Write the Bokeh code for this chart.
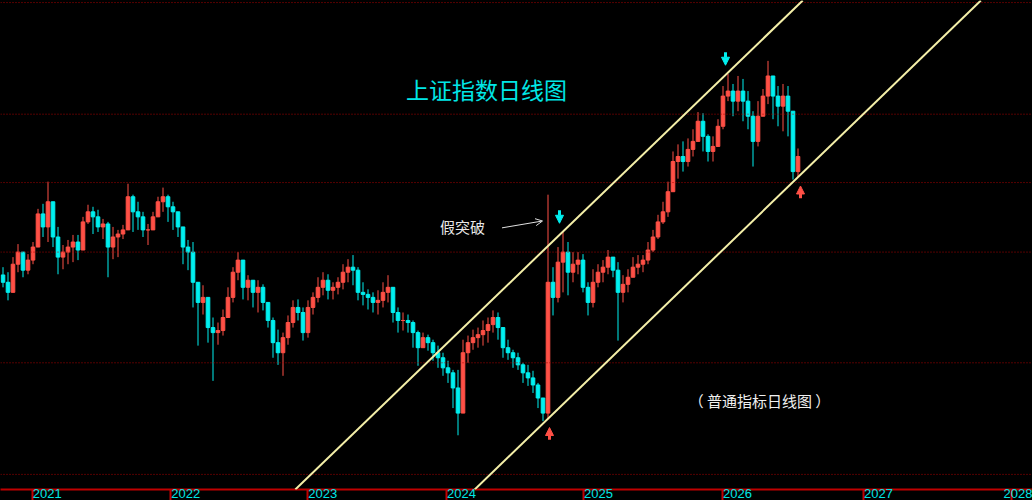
from bokeh.plotting import figure
from bokeh.models import (Range1d, Span, Slope, Label, Arrow, NormalHead, OpenHead,
                          FixedTicker, CustomJSTickFormatter, ColumnDataSource,
                          GlobalInlineStyleSheet)
from bokeh.embed import file_html
from bokeh.resources import INLINE

# ---------------- data (index points, one bar per sampled period) ----------------
first_open = 3320
closes = [3288, 3244, 3367, 3420, 3341, 3385, 3442, 3587, 3530, 3640,
          3486, 3398, 3420, 3442, 3464, 3429, 3552, 3596, 3574, 3530,
          3543, 3442, 3486, 3499, 3517, 3662, 3596, 3574, 3517, 3517,
          3574, 3640, 3662, 3618, 3596, 3530, 3442, 3420, 3288, 3200,
          3222, 3090, 3068, 3077, 3134, 3222, 3332, 3385, 3266, 3297,
          3244, 3266, 3200, 3121, 3024, 2980, 3046, 3112, 3178, 3156,
          3068, 3178, 3222, 3266, 3297, 3253, 3266, 3288, 3332, 3354,
          3341, 3244, 3235, 3222, 3200, 3209, 3244, 3266, 3156, 3121,
          3121, 3112, 3068, 3002, 3046, 3024, 2980, 2958, 2914, 2892,
          2826, 2716, 2980, 3024, 3046, 3059, 3077, 3103, 3134, 3090,
          3002, 2980, 2958, 2927, 2892, 2870, 2839, 2782, 2716, 3288,
          3222, 3376, 3420, 3332, 3367, 3385, 3266, 3200, 3288, 3332,
          3354, 3398, 3341, 3244, 3279, 3310, 3354, 3367, 3385, 3429,
          3486, 3552, 3596, 3684, 3816, 3838, 3816, 3869, 3904, 3992,
          3926, 3860, 3882, 3970, 4102, 4124, 4080, 4124, 4080, 4014,
          3904, 4014, 4102, 4190, 4102, 4058, 4102, 4036, 3772, 3838]
highs = [3354, 3332, 3398, 3455, 3420, 3411, 3464, 3609, 3631, 3728,
         3618, 3530, 3451, 3473, 3495, 3495, 3574, 3627, 3618, 3605,
         3565, 3552, 3530, 3517, 3539, 3719, 3671, 3640, 3596, 3543,
         3596, 3662, 3702, 3671, 3640, 3596, 3508, 3473, 3464, 3275,
         3275, 3200, 3134, 3112, 3169, 3266, 3354, 3420, 3332, 3319,
         3288, 3297, 3279, 3200, 3134, 3081, 3068, 3143, 3209, 3213,
         3178, 3209, 3244, 3310, 3332, 3323, 3288, 3310, 3367, 3389,
         3407, 3354, 3288, 3257, 3244, 3253, 3288, 3319, 3222, 3178,
         3156, 3147, 3121, 3077, 3068, 3059, 3037, 3011, 2980, 2945,
         2905, 2905, 3037, 3055, 3081, 3090, 3121, 3134, 3165, 3156,
         3068, 3037, 2993, 2980, 2936, 2927, 2901, 2848, 2782, 3671,
         3354, 3442, 3508, 3464, 3420, 3420, 3411, 3288, 3345, 3367,
         3385, 3429, 3398, 3376, 3319, 3345, 3398, 3407, 3407, 3464,
         3517, 3583, 3640, 3728, 3860, 3891, 3904, 3917, 3957, 4032,
         4027, 3935, 3926, 4001, 4146, 4199, 4155, 4190, 4177, 4124,
         4036, 4080, 4133, 4256, 4177, 4146, 4155, 4146, 3979, 3873]
lows = [3266, 3209, 3266, 3332, 3310, 3323, 3367, 3464, 3486, 3464,
        3442, 3323, 3345, 3367, 3376, 3385, 3442, 3543, 3499, 3508,
        3477, 3310, 3389, 3398, 3477, 3574, 3508, 3517, 3486, 3451,
        3517, 3574, 3596, 3552, 3517, 3486, 3367, 3341, 3178, 3011,
        3147, 3024, 2857, 3015, 3055, 3134, 3200, 3297, 3213, 3209,
        3178, 3156, 3165, 3090, 2958, 2927, 2879, 3015, 3090, 3121,
        3033, 3046, 3147, 3200, 3231, 3213, 3213, 3235, 3257, 3288,
        3275, 3209, 3187, 3169, 3156, 3147, 3178, 3200, 3112, 3068,
        3077, 3068, 3002, 2923, 3002, 2989, 2945, 2914, 2879, 2848,
        2738, 2619, 2782, 2936, 2993, 3002, 3011, 3024, 3068, 3037,
        2958, 2949, 2914, 2905, 2848, 2835, 2804, 2738, 2681, 2694,
        3143, 3200, 3244, 3231, 3288, 3323, 3244, 3143, 3178, 3266,
        3288, 3323, 3310, 3033, 3200, 3244, 3310, 3323, 3332, 3367,
        3420, 3477, 3543, 3574, 3728, 3741, 3772, 3794, 3838, 3904,
        3860, 3816, 3816, 3895, 3957, 4080, 4014, 4036, 3992, 3957,
        3794, 3882, 4036, 4067, 4001, 3970, 3948, 3926, 3737, 3750]

year_labels = ["2021", "2022", "2023", "2024", "2025", "2026", "2027", "2028"]
year_ticks = [5.84, 33.56, 60.96, 88.7, 116.1, 143.9, 172.1, 201.7]
grid_levels = [4511, 4023, 3724, 3420, 2936, 2448]

upper_channel = [(112.1, 3512), (144.9, 4203)]
lower_channel = [(108.5, 2681), (158.5, 3737)]

fake_break_bar = 109
top_signals = [111.3, 144.5]
bottom_signals = [109.3, 159.5]

title_text = "上证指数日线图"
note_text = "（ 普通指标日线图 ）"
fake_text = "假突破"

# ---------------- styling ----------------
UP = "#FF5046"
DOWN = "#00F0F0"
GRID = "#A80000"
AXIS = "#C00000"
CHANNEL = "#F4EFA8"
CYAN_TXT = "#00E6E6"

opens = [first_open] + closes[:-1]
idx = list(range(len(closes)))
tops = [max(o, c) for o, c in zip(opens, closes)]
bots = [min(o, c) for o, c in zip(opens, closes)]
hi = [max(h, o, c) for h, o, c in zip(highs, opens, closes)]
lo = [min(l, o, c) for l, o, c in zip(lows, opens, closes)]
cols = [UP if c >= o else DOWN for o, c in zip(opens, closes)]
src = ColumnDataSource(dict(x=idx, top=tops, bottom=bots, hi=hi, lo=lo, color=cols))

p = figure(width=1032, height=500, x_range=Range1d(-0.5, 205.9),
           y_range=Range1d(2382, 4520), output_backend="svg",
           toolbar_location=None, y_axis_location=None,
           background_fill_color="black", border_fill_color="black",
           outline_line_color=None, min_border=0,
           min_border_left=0, min_border_right=0, min_border_top=0, min_border_bottom=0)
p.stylesheets = [GlobalInlineStyleSheet(css="html,body{margin:0;padding:0;background:#000;overflow:hidden;}")]
p.grid.visible = False

for lv in grid_levels:
    p.add_layout(Span(location=lv, dimension="width", line_color=GRID,
                      line_dash="1 2", line_width=1))

# channel lines
for (x1, y1), (x2, y2) in (upper_channel, lower_channel):
    g = (y2 - y1) / (x2 - x1)
    p.add_layout(Slope(gradient=g, y_intercept=y1 - g * x1,
                       line_color=CHANNEL, line_width=2))

# candles
p.segment(x0="x", y0="hi", x1="x", y1="lo", color="color", line_width=1, source=src)
p.vbar(x="x", width=0.72, top="top", bottom="bottom", fill_color="color",
       line_color="color", line_width=1, source=src)

# axis
ax = p.xaxis[0]
ax.ticker = FixedTicker(ticks=[t + 3.0 for t in year_ticks], minor_ticks=year_ticks)
ax.formatter = CustomJSTickFormatter(args=dict(labels=year_labels), code="return labels[index];")
ax.axis_line_color = AXIS
ax.axis_line_width = 2
ax.major_tick_out = 0
ax.major_tick_in = 0
ax.minor_tick_out = 14
ax.minor_tick_in = 0
ax.minor_tick_line_color = AXIS
ax.minor_tick_line_width = 2
ax.major_label_standoff = -15
ax.major_label_text_color = CYAN_TXT
ax.major_label_text_font = "Liberation Sans"
ax.major_label_text_font_size = "13px"

# texts
p.add_layout(Label(x=96.7, y=4131, text=title_text, text_color=CYAN_TXT,
                   text_font="Noto Sans CJK SC", text_font_size="23px",
                   text_align="center", text_baseline="middle"))
p.add_layout(Label(x=151.3, y=2773, text=note_text, text_color="#F0F0F0",
                   text_font="Noto Sans CJK SC", text_font_size="15px",
                   text_align="center", text_baseline="middle"))
p.add_layout(Label(x=91.9, y=3534, text=fake_text, text_color="#E8E8E8",
                   text_font="Noto Sans CJK SC", text_font_size="15px",
                   text_align="center", text_baseline="middle"))
spike_hi = hi[fake_break_bar]
p.add_layout(Arrow(end=OpenHead(size=7, line_color="#E0E0E0", line_width=1),
                   x_start=fake_break_bar - 9.2, y_start=spike_hi - 145,
                   x_end=fake_break_bar - 1.1, y_end=spike_hi - 115,
                   line_color="#E0E0E0", line_width=1))

# signal arrows
for b in top_signals:
    k = int(b)
    ref = max(hi[k - 1:k + 2])
    p.add_layout(Arrow(end=NormalHead(size=8, fill_color=DOWN, line_color=DOWN),
                       x_start=b, y_start=ref + 95, x_end=b, y_end=ref + 38,
                       line_color=DOWN, line_width=3))
for b in bottom_signals:
    k = int(b)
    ref = min(lo[k - 1:k + 2])
    p.add_layout(Arrow(end=NormalHead(size=8, fill_color=UP, line_color=UP),
                       x_start=b, y_start=ref - 82, x_end=b, y_end=ref - 28,
                       line_color=UP, line_width=3))

open("out.html", "w").write(file_html(p, INLINE))
